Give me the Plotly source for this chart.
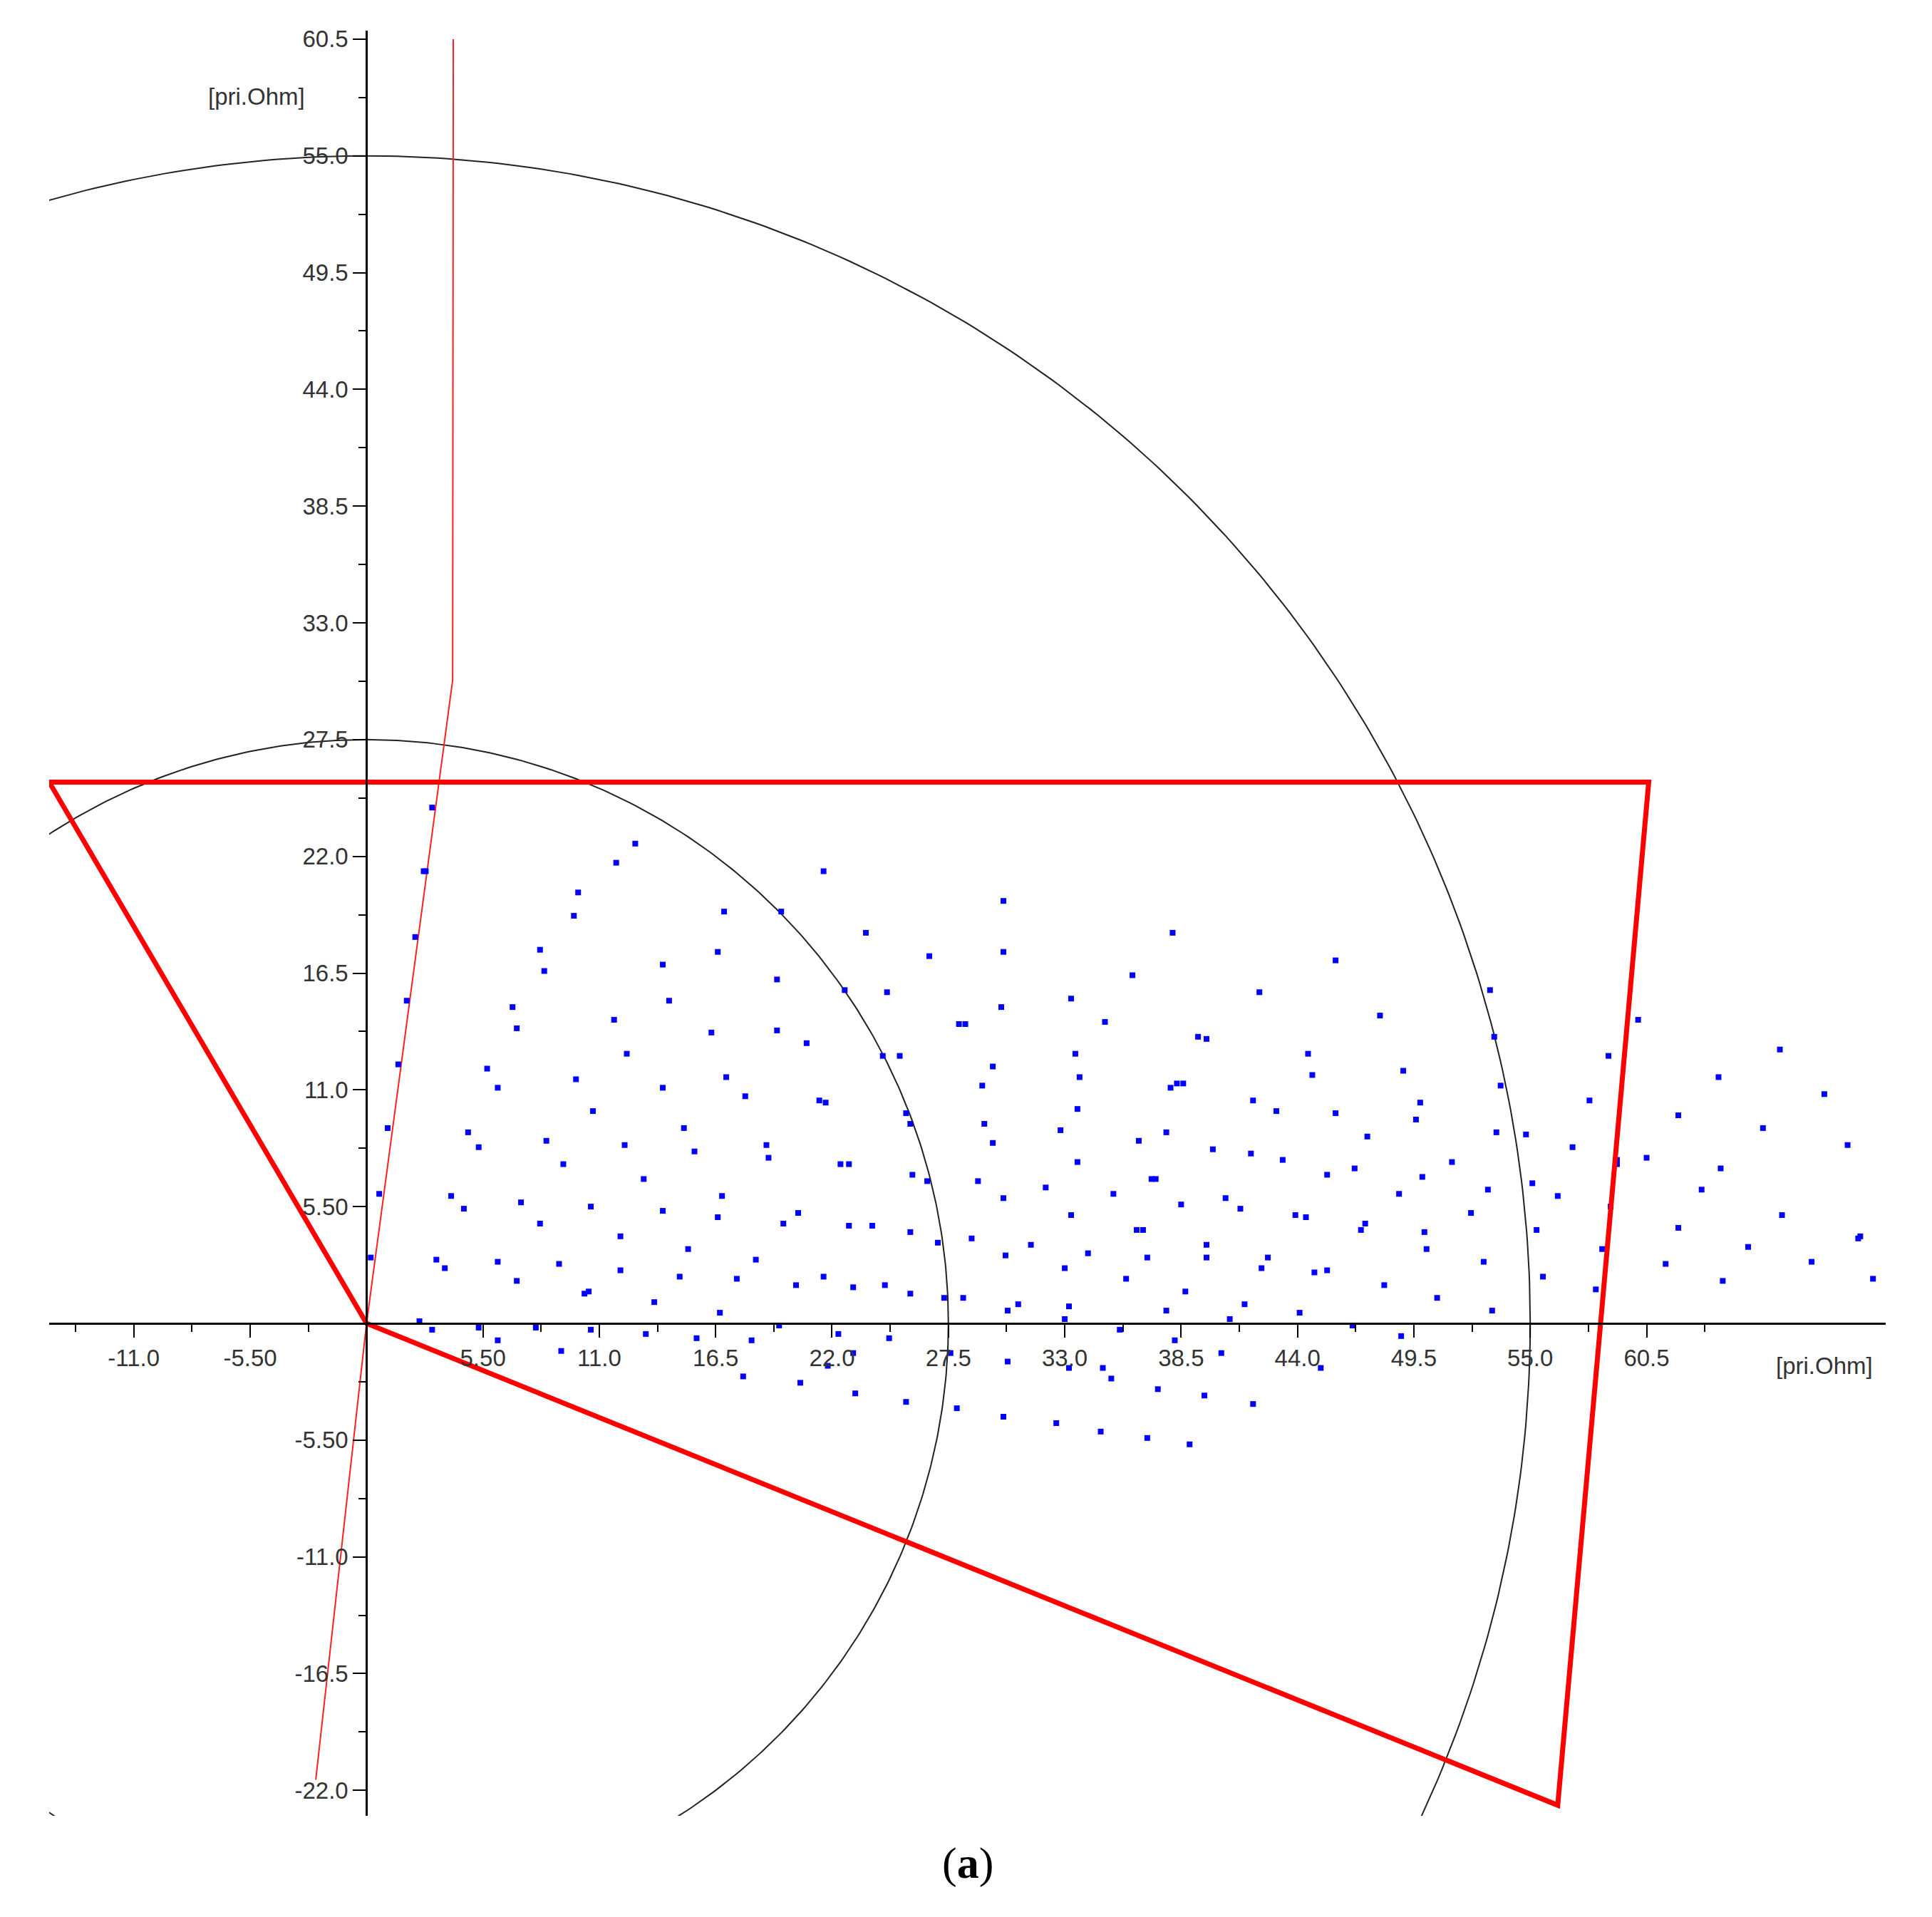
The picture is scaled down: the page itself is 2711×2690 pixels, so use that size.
import plotly.graph_objects as go
import numpy as np

xtick_vals = [-11.0, -5.5, 5.5, 11.0, 16.5, 22.0, 27.5, 33.0, 38.5, 44.0, 49.5, 55.0, 60.5]
xtick_text = ["-11.0", "-5.50", "5.50", "11.0", "16.5", "22.0", "27.5", "33.0", "38.5", "44.0", "49.5", "55.0", "60.5"]
ytick_vals = [-22.0, -16.5, -11.0, -5.5, 5.5, 11.0, 16.5, 22.0, 27.5, 33.0, 38.5, 44.0, 49.5, 55.0, 60.5]
ytick_text = ["-22.0", "-16.5", "-11.0", "-5.50", "5.50", "11.0", "16.5", "22.0", "27.5", "33.0", "38.5", "44.0", "49.5", "55.0", "60.5"]

zone_x = [-15.0, 60.6, 56.3, 0.0, -15.0]
zone_y = [25.5, 25.5, -22.7, 0.0, 25.5]
line_x = [-2.4, 0.0, 4.07, 4.1]
line_y = [-21.5, 0.0, 30.3, 60.5]
circle_radii = [27.5, 55.0]

pts = [(0.2,3.1),(0.6,6.1),(1.0,9.2),(1.5,12.2),(1.9,15.2),(2.3,18.2),(2.7,21.3),(3.1,24.3),(2.8,21.3),(2.5,0.1),(3.1,-0.3),
(3.3,3.0),(3.7,2.6),(4.0,6.0),(4.6,5.4),(4.8,9.0),(5.3,8.3),(5.7,12.0),(6.2,11.1),(6.2,2.9),(6.2,-0.8),(5.3,-0.2),(6.9,14.9),(7.1,13.9),(7.3,5.7),(7.1,2.0),(8.2,17.6),(8.4,16.6),(8.2,4.7),(8.0,-0.2),(8.5,8.6),(9.1,2.8),(9.3,7.5),(9.2,-1.3),(9.8,19.2),(10.0,20.3),(9.9,11.5),(10.3,1.4),(10.5,1.5),(10.6,5.5),(10.7,10.0),(10.6,-0.3),(11.7,14.3),(11.8,21.7),(12.0,4.1),(12.0,2.5),(12.2,8.4),(12.3,12.7),(12.7,22.6),(13.1,6.8),(13.2,-0.5),(13.6,1.0),(14.0,16.9),(14.0,11.1),(14.3,15.2),(14.0,5.3),(14.8,2.2),(15.0,9.2),(15.2,3.5),(15.5,8.1),(15.6,-0.7),(16.3,13.7),(16.6,17.5),(16.6,5.0),(16.7,0.5),(16.9,19.4),(16.8,6.0),(17.0,11.6),(17.5,2.1),(17.8,-2.5),(17.9,10.7),(18.2,-0.8),(18.4,3.0),(18.9,8.4),(19.0,7.8),(19.4,16.2),(19.4,13.8),(19.6,19.4),(19.5,-0.1),(19.7,4.7),(20.3,1.8),(20.5,-2.8),(20.4,5.2),(20.8,13.2),(21.4,10.5),(21.7,10.4),(21.6,21.3),(21.6,2.2),(21.8,-2.0),(22.3,-0.5),(22.4,7.5),(22.8,7.5),(22.6,15.7),(22.8,4.6),(23.0,1.7),(23.1,-3.3),(23.0,-1.4),(23.6,18.4),(23.9,4.6),(24.4,12.6),(24.6,15.6),(24.5,1.8),(24.7,-0.7),(25.2,12.6),(25.5,9.9),(25.7,9.4),(25.5,-3.7),(25.7,1.4),(25.7,4.3),(25.8,7.0),(26.5,6.7),(26.6,17.3),(27.0,3.8),(27.3,1.2),(27.6,-1.4),(27.9,-4.0),(28.0,14.1),(28.3,14.1),(28.2,1.2),(28.6,4.0),(28.9,6.7),(29.1,11.2),(29.2,9.4),(29.6,12.1),(29.6,8.5),(30.1,19.9),(30.1,17.5),(30.0,14.9),(30.1,5.9),(30.3,0.6),(30.2,3.2),(30.3,-1.8),(30.1,-4.4),(30.8,0.9),(31.4,3.7),(32.1,6.4),(32.6,-4.7),(32.8,9.1),(33.0,2.6),(33.0,0.2),(33.2,-2.1),(33.3,15.3),(33.3,5.1),(33.5,12.7),(33.6,7.6),(33.6,10.1),(33.7,11.6),(33.2,0.8),(34.1,3.3),(34.7,-5.1),(34.9,14.2),(34.8,-2.1),(35.2,-2.6),(35.3,6.1),(35.6,-0.3),(35.9,2.1),(36.2,16.4),(36.4,4.4),(36.5,8.6),(36.7,4.4),(36.9,3.1),(36.9,-5.4),(37.1,6.8),(37.3,6.8),(37.4,-3.1),(37.8,9.0),(37.8,0.6),(38.0,11.1),(38.1,18.4),(38.2,-0.8),(38.3,11.3),(38.5,5.6),(38.6,11.3),(38.7,1.5),(38.9,-5.7),(39.3,13.5),(39.7,13.4),(39.7,3.7),(39.7,3.1),(39.6,-3.4),(40.0,8.2),(40.4,-1.4),(40.6,5.9),(40.8,0.2),(41.3,5.4),(41.5,0.9),(41.8,8.0),(41.9,10.5),(41.9,-3.8),(42.2,15.6),(42.3,2.6),(42.6,3.1),(43.0,10.0),(43.3,7.7),(43.9,5.1),(44.1,0.5),(44.4,5.0),(44.5,12.7),(44.7,11.7),(44.8,2.4),(45.1,-2.1),(45.4,2.5),(45.4,7.0),(45.8,9.9),(45.8,17.1),(46.6,-0.1),(46.7,7.3),(47.0,4.4),(47.2,4.7),(47.3,8.8),(47.9,14.5),(48.1,1.8),(48.8,6.1),(48.9,-0.6),(49.0,11.9),(49.6,9.6),(49.8,10.4),(50.0,4.3),(49.9,6.9),(50.1,3.5),(50.6,1.2),(51.3,7.6),(52.2,5.2),(52.8,2.9),(53.0,6.3),(53.1,15.7),(53.2,0.6),(53.3,13.5),(53.4,9.0),(53.6,11.2),(54.8,8.9),(55.1,6.6),(55.3,4.4),(55.6,2.2),(56.3,6.0),(57.0,8.3),(57.8,10.5),(58.1,1.6),(58.4,3.5),(58.7,12.6),(58.8,5.5),(59.1,7.5),(59.1,7.7),(60.1,14.3),(60.5,7.8),(61.4,2.8),(62.0,4.5),(62.0,9.8),(63.1,6.3),(63.9,11.6),(64.0,7.3),(64.1,2.0),(65.3,3.6),(66.0,9.2),(66.8,12.9),(66.9,5.1),(68.3,2.9),(68.9,10.8),(70.0,8.4),(70.5,4.0),(70.6,4.1),(71.2,2.1)]
pts_x = [p[0] for p in pts]
pts_y = [p[1] for p in pts]

XR = [-15.0, 71.8]
YR = [-23.2, 60.9]

fig = go.Figure()
th = np.linspace(0, 2*np.pi, 721)
for r in circle_radii:
    fig.add_trace(go.Scatter(x=r*np.cos(th), y=r*np.sin(th), mode="lines",
                             line=dict(color="#222", width=2), hoverinfo="skip"))
fig.add_trace(go.Scatter(x=line_x, y=line_y, mode="lines", line=dict(color="#ff2020", width=2)))
fig.add_trace(go.Scatter(x=pts_x, y=pts_y, mode="markers",
                         marker=dict(color="#0000ff", size=8, symbol="square", line=dict(width=0))))
fig.add_trace(go.Scatter(x=zone_x, y=zone_y, mode="lines", line=dict(color="#ff0000", width=7)))

font = dict(family="Liberation Sans, Arial", size=33, color="#333")
fig.update_layout(
    width=2711, height=2690, showlegend=False,
    plot_bgcolor="white", paper_bgcolor="white",
    margin=dict(l=61, r=73, t=35, b=150),
    xaxis=dict(range=XR, anchor="free", position=(0-YR[0])/(YR[1]-YR[0]),
               showgrid=False, zeroline=False, showline=True, linecolor="black", linewidth=3,
               ticks="outside", ticklen=18, tickwidth=2, tickcolor="black",
               tickvals=xtick_vals, ticktext=xtick_text, tickfont=font,
               minor=dict(tickvals=[v + 2.75 for v in [-16.5] + xtick_vals] , ticklen=10, tickwidth=2, tickcolor="black", ticks="outside")),
    yaxis=dict(range=YR, anchor="free", position=(0-XR[0])/(XR[1]-XR[0]),
               showgrid=False, zeroline=False, showline=True, linecolor="black", linewidth=3,
               ticks="outside", ticklen=18, tickwidth=2, tickcolor="black",
               tickvals=ytick_vals, ticktext=ytick_text, tickfont=font,
               minor=dict(tickvals=[v + 2.75 for v in [-27.5] + ytick_vals], ticklen=10, tickwidth=2, tickcolor="black", ticks="outside")),
    annotations=[
        dict(x=-5.2, y=57.8, text="[pri.Ohm]", showarrow=False, font=font),
        dict(x=68.9, y=-2.0, text="[pri.Ohm]", showarrow=False, font=font),
        dict(x=0.5, y=-0.012, xref="paper", yref="paper", yanchor="top", text="(<b>a</b>)", showarrow=False,
             font=dict(family="Liberation Serif", size=62, color="black")),
    ],
)
fig.write_html("out.html")
